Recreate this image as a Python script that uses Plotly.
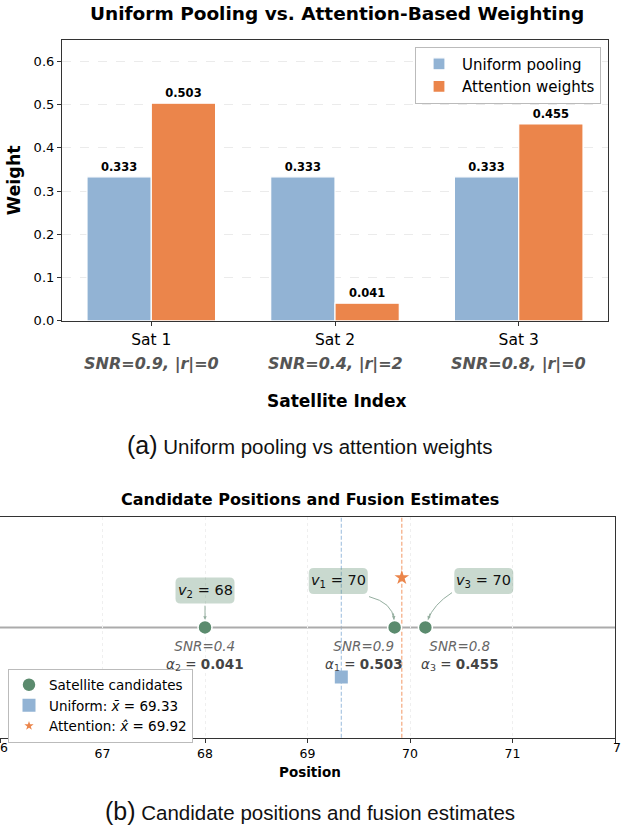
import plotly.graph_objects as go

W, H = 621, 831

# ---------------- data ----------------
sat_labels = ["Sat 1", "Sat 2", "Sat 3"]
sat_info = ["SNR=0.9, |r|=0", "SNR=0.4, |r|=2", "SNR=0.8, |r|=0"]
uniform_w = [0.333, 0.333, 0.333]
attention_w = [0.503, 0.041, 0.455]

cand_values = [70, 68, 70]          # v1, v2, v3
cand_jitter = [-0.15, 0.0, 0.15]    # display offsets to avoid overlap
cand_snr = [0.9, 0.4, 0.8]
cand_alpha = [0.503, 0.041, 0.455]
uniform_est = 69.33
attention_est = 69.92
pos_ticks = [66, 67, 68, 69, 70, 71, 72]

BLUE = "#92b3d4"
ORANGE = "#eb854b"
GREEN = "#5b8b6e"
BOXFILL = "rgba(91,139,110,0.33)"
ARROW = "#94ae9f"
FONT = "DejaVu Sans"
CAPFONT = "Liberation Sans"


def px(x):
    return x / W


def py(y):
    return 1 - y / H


fig = go.Figure()

# ---------------- top: bars ----------------
xs = list(range(len(sat_labels)))
fig.add_trace(go.Bar(
    x=xs, y=uniform_w, width=0.35, offset=-0.35, name="Uniform pooling",
    marker=dict(color=BLUE, line=dict(color="white", width=1.2)),
    texttemplate="<b>%{y:.3f}</b>", textposition="outside",
    textfont=dict(size=11.5, color="black", family=FONT), cliponaxis=False,
    xaxis="x", yaxis="y", legend="legend"))
fig.add_trace(go.Bar(
    x=xs, y=attention_w, width=0.35, offset=0.0, name="Attention weights",
    marker=dict(color=ORANGE, line=dict(color="white", width=1.2)),
    texttemplate="<b>%{y:.3f}</b>", textposition="outside",
    textfont=dict(size=11.5, color="black", family=FONT), cliponaxis=False,
    xaxis="x", yaxis="y", legend="legend"))

# ---------------- bottom: positions ----------------
cand_x = [v + j for v, j in zip(cand_values, cand_jitter)]
fig.add_trace(go.Scatter(
    x=cand_x, y=[0] * len(cand_x), mode="markers", name="Satellite candidates",
    marker=dict(color=GREEN, size=14, line=dict(color="white", width=1.5)),
    xaxis="x2", yaxis="y2", legend="legend2", cliponaxis=False))
fig.add_trace(go.Scatter(
    x=[uniform_est], y=[-0.45], mode="markers",
    name="Uniform: <i>x\u0304</i> = %.2f" % uniform_est,
    marker=dict(color=BLUE, size=13, symbol="square"),
    xaxis="x2", yaxis="y2", legend="legend2"))
fig.add_trace(go.Scatter(
    x=[attention_est], y=[0.45], mode="markers", showlegend=False,
    marker=dict(color=ORANGE, size=11, symbol="star"),
    xaxis="x2", yaxis="y2", legend="legend2"))
# legend entry for the star (smaller symbol, like the reference)
fig.add_trace(go.Scatter(
    x=[None], y=[None], mode="markers",
    name="Attention: <i>x\u0302</i> = %.2f" % attention_est,
    marker=dict(color=ORANGE, size=7, symbol="star"),
    xaxis="x2", yaxis="y2", legend="legend2"))

shapes = []
shapes.append(dict(type="line", xref="x2", yref="y2", x0=66, x1=72, y0=0, y1=0,
                   line=dict(color="#ababab", width=2), layer="below"))
shapes.append(dict(type="line", xref="x2", yref="y2 domain", x0=uniform_est, x1=uniform_est,
                   y0=0, y1=1, line=dict(color="#aac6e2", width=1.2, dash="4px,2px"), layer="below"))
shapes.append(dict(type="line", xref="x2", yref="y2 domain", x0=attention_est, x1=attention_est,
                   y0=0, y1=1, line=dict(color="#f4a97e", width=1.2, dash="4px,2px"), layer="below"))
shapes.append(dict(type="path", xref="x2", yref="y2",
                   path="M 69.60,0.279 Q 69.83,0.225 69.844,0.07",
                   line=dict(color=ARROW, width=1)))
shapes.append(dict(type="path", xref="x2", yref="y2",
                   path="M 70.41,0.315 Q 70.228,0.207 70.176,0.07",
                   line=dict(color=ARROW, width=1)))


def rounded_box(w, h, r):
    a, b = w / 2, h / 2
    return ("M %g,%g L %g,%g Q %g,%g %g,%g L %g,%g Q %g,%g %g,%g "
            "L %g,%g Q %g,%g %g,%g L %g,%g Q %g,%g %g,%g Z") % (
        -a + r, -b, a - r, -b, a, -b, a, -b + r,
        a, b - r, a, b, a - r, b,
        -a + r, b, -a, b, -a, b - r,
        -a, -b + r, -a, -b, -a + r, -b)


def pann(text, x, y, size, family=FONT, color="black", xanchor="center"):
    return dict(text=text, x=x, y=y, xref="paper", yref="paper", showarrow=False,
                xanchor=xanchor, yanchor="middle",
                font=dict(size=size, family=family, color=color))


ann = []
ann.append(pann("<b>Uniform Pooling vs. Attention-Based Weighting</b>", px(337), py(14), 18.5))
for i, s in enumerate(sat_info):
    ann.append(dict(text="<b><i>%s</i></b>" % s, x=i, y=py(368), xref="x", yref="paper",
                    xanchor="center", yanchor="middle", showarrow=False,
                    font=dict(size=16, family=FONT, color="#555555")))
ann.append(pann("<b>Satellite Index</b>", px(337), py(405), 17))
ann.append(pann("<span style='font-size:25px'>(a)</span> Uniform pooling vs attention weights",
                px(310), py(449), 20.5, CAPFONT, "#111111"))
ann.append(pann("<b>Candidate Positions and Fusion Estimates</b>", px(310), py(504), 16))
ann.append(pann("<b>Position</b>", px(310), py(779), 13.5))
ann.append(pann("<span style='font-size:25px'>(b)</span> Candidate positions and fusion estimates",
                px(310), py(819), 20.5, CAPFONT, "#111111"))
# edge tick labels (66 and 72) are cut by the figure border in the reference
ann.append(dict(text="6", x=0, y=py(755), xref="paper", yref="paper", showarrow=False,
                xanchor="left", yanchor="middle", xshift=-2,
                font=dict(size=12.5, family=FONT, color="black")))
ann.append(dict(text="7", x=1, y=py(755), xref="paper", yref="paper", showarrow=False,
                xanchor="right", yanchor="middle", xshift=2,
                font=dict(size=12.5, family=FONT, color="black")))

box_pos = [(69.30, 0.42), (68.0, 0.333), (70.72, 0.42)]
for k, (bx, by) in enumerate(box_pos):
    shapes.append(dict(type="path", xref="x2", yref="y2", xsizemode="pixel", ysizemode="pixel",
                       xanchor=bx, yanchor=by, path=rounded_box(59, 26, 5),
                       fillcolor=BOXFILL, line=dict(width=0)))
    ann.append(dict(text="<i>v</i><sub>%d</sub> = %d" % (k + 1, cand_values[k]),
                    x=bx, y=by, xref="x2", yref="y2", showarrow=False,
                    xanchor="center", yanchor="middle",
                    font=dict(size=14.5, family=FONT, color="#111111")))
ann.append(dict(text="", x=68.0, y=0.07, ax=68.0, ay=0.21, xref="x2", yref="y2",
                axref="x2", ayref="y2", showarrow=True, arrowhead=2, arrowsize=0.7,
                arrowwidth=1, arrowcolor=ARROW))
ann.append(dict(text="", x=69.844, y=0.07, ax=69.838, ay=0.14, xref="x2", yref="y2",
                axref="x2", ayref="y2", showarrow=True, arrowhead=2, arrowsize=0.7,
                arrowwidth=1, arrowcolor=ARROW))
ann.append(dict(text="", x=70.176, y=0.07, ax=70.2, ay=0.14, xref="x2", yref="y2",
                axref="x2", ayref="y2", showarrow=True, arrowhead=2, arrowsize=0.7,
                arrowwidth=1, arrowcolor=ARROW))

label_x = [69.55, 68.0, 70.49]
for k in range(3):
    ann.append(dict(
        text=("<span style='color:#666666'><i>SNR=%.1f</i></span><br>"
              "<i>α</i><sub>%d</sub> = <b>%.3f</b>") % (cand_snr[k], k + 1, cand_alpha[k]),
        x=label_x[k], y=-0.25, xref="x2", yref="y2", showarrow=False,
        xanchor="center", yanchor="middle",
        font=dict(size=13.5, family=FONT, color="#444444")))

axis_line = dict(showline=True, linecolor="#333333", linewidth=1.2, mirror=True,
                 ticks="outside", ticklen=4, tickcolor="#333333", zeroline=False)

fig.update_layout(
    width=W, height=H, margin=dict(l=0, r=0, t=0, b=0),
    paper_bgcolor="white", plot_bgcolor="white",
    font=dict(family=FONT, color="black"),
    barmode="overlay", showlegend=True,
    xaxis=dict(domain=[px(62), px(608)], range=[-0.486, 2.486], anchor="y",
               tickvals=xs, ticktext=sat_labels, tickfont=dict(size=15.5),
               showgrid=False, **axis_line),
    yaxis=dict(domain=[py(324), py(40)], range=[0, 0.65], anchor="x",
               tickvals=[0, 0.1, 0.2, 0.3, 0.4, 0.5, 0.6], tickformat=".1f",
               tickfont=dict(size=13), showgrid=True, gridcolor="#ebebeb",
               griddash="dash", gridwidth=1,
               title=dict(text="<b>Weight</b>", font=dict(size=17.5), standoff=8),
               **axis_line),
    xaxis2=dict(domain=[0, px(615)], range=[66, 72], anchor="y2",
                tickvals=pos_ticks, tickfont=dict(size=12.5),
                showgrid=True, gridcolor="#efefef", griddash="dot", gridwidth=1,
                **axis_line),
    yaxis2=dict(domain=[py(745), py(522)], range=[-1, 1], anchor="x2",
                showticklabels=False, showgrid=False, showline=True, mirror=True,
                linecolor="#333333", linewidth=1.2, ticks="", zeroline=False),
    legend=dict(x=px(601), y=py(47), xanchor="right", yanchor="top",
                bgcolor="white", bordercolor="#bbbbbb", borderwidth=1,
                font=dict(size=15, family=FONT), itemwidth=36, tracegroupgap=2),
    legend2=dict(x=px(8), y=py(675), xanchor="left", yanchor="top",
                 bgcolor="white", bordercolor="#bbbbbb", borderwidth=1,
                 font=dict(size=13.5, family=FONT), itemwidth=30),
    shapes=shapes, annotations=ann,
)

fig.write_html("out.html")
